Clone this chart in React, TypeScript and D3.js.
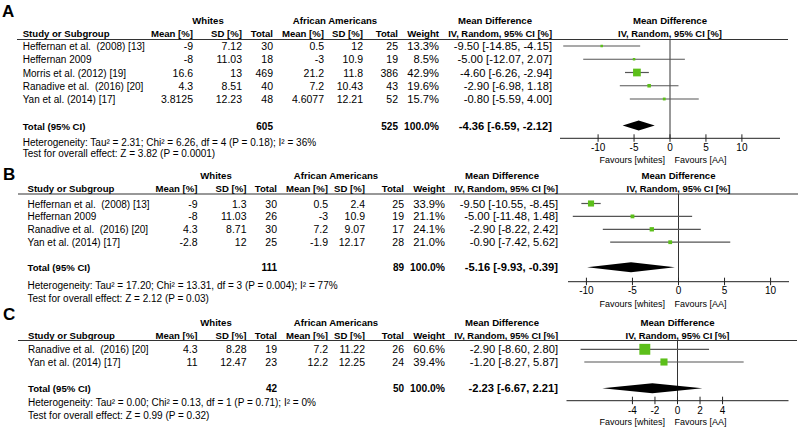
import React from "react";
import * as d3 from "d3";

// ---------- DATA ----------
const studiesA = ["Heffernan et al.  (2008) [13]", "Heffernan 2009", "Morris et al. (2012) [19]", "Ranadive et al.  (2016) [20]", "Yan et al. (2014) [17]"];
const wMeanA = ["-9", "-8", "16.6", "4.3", "3.8125"];
const wSdA = ["7.12", "11.03", "13", "8.51", "12.23"];
const wNA = [30, 18, 469, 40, 48];
const aMeanA = ["0.5", "-3", "21.2", "7.2", "4.6077"];
const aSdA = ["12", "10.9", "11.8", "10.43", "12.21"];
const aNA = [25, 19, 386, 43, 52];
const weightA = [13.3, 8.5, 42.9, 19.6, 15.7];
const mdA = [-9.5, -5.0, -4.6, -2.9, -0.8];
const loA = [-14.85, -12.07, -6.26, -6.98, -5.59];
const hiA = [-4.15, 2.07, -2.94, 1.18, 4.0];
const totalA = { wN: 605, aN: 525, md: -4.36, lo: -6.59, hi: -2.12 };
const hetA = "Heterogeneity: Tau\u00b2 = 2.31; Chi\u00b2 = 6.26, df = 4 (P = 0.18); I\u00b2 = 36%";
const testA = "Test for overall effect: Z = 3.82 (P = 0.0001)";
const ticksA = [-10, -5, 0, 5, 10];

const studiesB = ["Heffernan et al.  (2008) [13]", "Heffernan 2009", "Ranadive et al.  (2016) [20]", "Yan et al. (2014) [17]"];
const wMeanB = ["-9", "-8", "4.3", "-2.8"];
const wSdB = ["1.3", "11.03", "8.71", "12"];
const wNB = [30, 26, 30, 25];
const aMeanB = ["0.5", "-3", "7.2", "-1.9"];
const aSdB = ["2.4", "10.9", "9.07", "12.17"];
const aNB = [25, 19, 17, 28];
const weightB = [33.9, 21.1, 24.1, 21.0];
const mdB = [-9.5, -5.0, -2.9, -0.9];
const loB = [-10.55, -11.48, -8.22, -7.42];
const hiB = [-8.45, 1.48, 2.42, 5.62];
const totalB = { wN: 111, aN: 89, md: -5.16, lo: -9.93, hi: -0.39 };
const hetB = "Heterogeneity: Tau\u00b2 = 17.20; Chi\u00b2 = 13.31, df = 3 (P = 0.004); I\u00b2 = 77%";
const testB = "Test for overall effect: Z = 2.12 (P = 0.03)";
const ticksB = [-10, -5, 0, 5, 10];

const studiesC = ["Ranadive et al.  (2016) [20]", "Yan et al. (2014) [17]"];
const wMeanC = ["4.3", "11"];
const wSdC = ["8.28", "12.47"];
const wNC = [19, 23];
const aMeanC = ["7.2", "12.2"];
const aSdC = ["11.22", "12.25"];
const aNC = [26, 24];
const weightC = [60.6, 39.4];
const mdC = [-2.9, -1.2];
const loC = [-8.6, -8.27];
const hiC = [2.8, 5.87];
const totalC = { wN: 42, aN: 50, md: -2.23, lo: -6.67, hi: 2.21 };
const hetC = "Heterogeneity: Tau\u00b2 = 0.00; Chi\u00b2 = 0.13, df = 1 (P = 0.71); I\u00b2 = 0%";
const testC = "Test for overall effect: Z = 0.99 (P = 0.32)";
const ticksC = [-4, -2, 0, 2, 4];

// ---------- STYLE ----------
const FONT = "'Liberation Sans', Arial, sans-serif";
const GREEN = "#5cbf1a";
const GREY = "#555";
const BOLD = 9.6;
const VAL = 10.5;
const NUM = 11.2;

const sizeScale = d3.scaleLinear().domain([0, 100]).range([0, 18]);

const fmt = (v: number) => v.toFixed(2);

function Panel(props: any) {
  const p = props;
  const x = d3.scaleLinear().domain(p.domain).range(p.range);
  const rows = p.studies.map((s: string, i: number) => i);
  const y = (i: number) => p.rowY0 + i * p.rowStep;
  const c = p.cols;
  const T = (tx: number, ty: number, txt: any, anchor = "end", bold = false, size = 10) => (
    <text x={tx} y={ty} textAnchor={anchor} fontWeight={bold ? "bold" : "normal"} fontSize={size} style={{ whiteSpace: "pre" }}>{txt}</text>
  );
  const d = p.total;
  const dy = p.totalY;
  const hh = 5;
  const diamond = `M${x(d.lo)},${dy} L${x(d.md)},${dy - hh} L${x(d.hi)},${dy} L${x(d.md)},${dy + hh} Z`;
  return (
    <g>
      <text x={p.labelX} y={p.labelY} fontWeight="bold" fontSize={17}>{p.label}</text>
      {T(p.whitesCx, p.groupY, "Whites", "middle", true, BOLD)}
      {T(p.aaCx, p.groupY, "African Americans", "middle", true, BOLD)}
      {T(p.mdCx, p.groupY, "Mean Difference", "middle", true, BOLD)}
      {T(x(0), p.groupY, "Mean Difference", "middle", true, BOLD)}
      {T(p.leftX, p.headY, "Study or Subgroup", "start", true, BOLD)}
      {T(c[0], p.headY, "Mean [%]", "end", true, BOLD)}
      {T(c[1], p.headY, "SD [%]", "end", true, BOLD)}
      {T(c[2], p.headY, "Total", "end", true, BOLD)}
      {T(c[3], p.headY, "Mean [%]", "end", true, BOLD)}
      {T(c[4], p.headY, "SD [%]", "end", true, BOLD)}
      {T(c[5], p.headY, "Total", "end", true, BOLD)}
      {T(c[6], p.headY, "Weight", "end", true, BOLD)}
      {T(c[7], p.headY, "IV, Random, 95% CI [%]", "end", true, 9.4)}
      {T(x(0), p.headY, "IV, Random, 95% CI [%]", "middle", true, 9.4)}
      <line x1={p.lineX1} x2={p.lineX2} y1={p.lineY} y2={p.lineY} stroke="#333" strokeWidth={1.2} />
      {rows.map((i: number) => (
        <g key={i}>
          {T(p.leftX, y(i) + 4, p.studies[i], "start")}
          {T(c[0], y(i) + 4, p.wMean[i], "end", false, VAL)}
          {T(c[1], y(i) + 4, p.wSd[i], "end", false, VAL)}
          {T(c[2], y(i) + 4, p.wN[i], "end", false, VAL)}
          {T(c[3], y(i) + 4, p.aMean[i], "end", false, VAL)}
          {T(c[4], y(i) + 4, p.aSd[i], "end", false, VAL)}
          {T(c[5], y(i) + 4, p.aN[i], "end", false, VAL)}
          {T(c[6], y(i) + 4, p.weight[i].toFixed(1) + "%", "end", false, NUM)}
          {T(c[7], y(i) + 4, `${fmt(p.md[i])} [${fmt(p.lo[i])}, ${fmt(p.hi[i])}]`, "end", false, NUM)}
        </g>
      ))}
      {T(p.leftX, dy + 4, "Total (95% CI)", "start", true, BOLD)}
      {T(c[2], dy + 4, d.wN, "end", true, 10)}
      {T(c[5], dy + 4, d.aN, "end", true, 10)}
      {T(c[6], dy + 4, "100.0%", "end", true, 10.3)}
      {T(c[7], dy + 4, `${fmt(d.md)} [${fmt(d.lo)}, ${fmt(d.hi)}]`, "end", true, NUM)}
      {T(p.leftX, p.hetY, p.het, "start")}
      {T(p.leftX, p.testY, p.test, "start")}
      {/* plot */}
      <line x1={x(0)} x2={x(0)} y1={p.lineY} y2={p.axisY} stroke="#333" strokeWidth={1} />
      {rows.map((i: number) => {
        const s = Math.max(2.5, sizeScale(p.weight[i]));
        return (
          <g key={"m" + i}>
            <line x1={x(p.lo[i])} x2={x(p.hi[i])} y1={y(i)} y2={y(i)} stroke={GREY} strokeWidth={1.2} />
            <rect x={x(p.md[i]) - s / 2} y={y(i) - s / 2} width={s} height={s} fill={GREEN} />
          </g>
        );
      })}
      <path d={diamond} fill="#000" />
      <line x1={p.range[0]} x2={p.range[1]} y1={p.axisY} y2={p.axisY} stroke="#222" strokeWidth={1} />
      {p.ticks.map((t: number) => (
        <g key={"t" + t}>
          <line x1={x(t)} x2={x(t)} y1={p.axisY - 4} y2={p.axisY + 3.5} stroke="#222" strokeWidth={1} />
          {T(x(t), p.tickY, String(t), "middle", false, 10)}
        </g>
      ))}
      {T(665, p.favY, "Favours [whites]", "end", false, 9)}
      {T(674.5, p.favY, "Favours [AA]", "start", false, 9)}
    </g>
  );
}

export default function App() {
  return (
    <svg width={800} height={428} style={{ position: "absolute", left: 0, top: 0, background: "#fff" }} fontFamily={FONT}>
      <rect width={800} height={428} fill="#fff" />
      <Panel label="A" labelX={2} labelY={17} leftX={22.7}
        studies={studiesA} wMean={wMeanA} wSd={wSdA} wN={wNA} aMean={aMeanA} aSd={aSdA} aN={aNA}
        weight={weightA} md={mdA} lo={loA} hi={hiA} total={totalA} het={hetA} test={testA} ticks={ticksA}
        cols={[193, 242, 273, 324, 363, 398, 439, 552]} whitesCx={208} aaCx={335} mdCx={495}
        groupY={24} headY={37} lineY={39.5} lineX1={17} lineX2={788}
        rowY0={46} rowStep={13.25} totalY={125.5} axisY={138.3} hetY={145.5} testY={157}
        domain={[-15.3, 15.3]} range={[560, 780]} tickY={150.5} favY={163} />
      <Panel label="B" labelX={3} labelY={179.5} leftX={27.5}
        studies={studiesB} wMean={wMeanB} wSd={wSdB} wN={wNB} aMean={aMeanB} aSd={aSdB} aN={aNB}
        weight={weightB} md={mdB} lo={loB} hi={hiB} total={totalB} het={hetB} test={testB} ticks={ticksB}
        cols={[197.5, 246.5, 277, 328, 365, 404, 445, 558]} whitesCx={216} aaCx={336} mdCx={502}
        groupY={179} headY={191.5} lineY={194} lineX1={18} lineX2={798}
        rowY0={203.5} rowStep={12.9} totalY={267.3} axisY={281.7} hetY={289} testY={302.3}
        domain={[-12, 12]} range={[568, 789]} tickY={294} favY={306.7} />
      <Panel label="C" labelX={3} labelY={319.5} leftX={28}
        studies={studiesC} wMean={wMeanC} wSd={wSdC} wN={wNC} aMean={aMeanC} aSd={aSdC} aN={aNC}
        weight={weightC} md={mdC} lo={loC} hi={hiC} total={totalC} het={hetC} test={testC} ticks={ticksC}
        cols={[197.5, 246.5, 277, 328, 365, 404, 445, 558]} whitesCx={216} aaCx={336} mdCx={502}
        groupY={326} headY={338.5} lineY={340.5} lineX1={18} lineX2={797}
        rowY0={349.3} rowStep={12.7} totalY={388.3} axisY={400.7} hetY={406.3} testY={419}
        domain={[-9.85, 9.85]} range={[566.5, 788.5]} tickY={414} favY={424.5} />
    </svg>
  );
}
